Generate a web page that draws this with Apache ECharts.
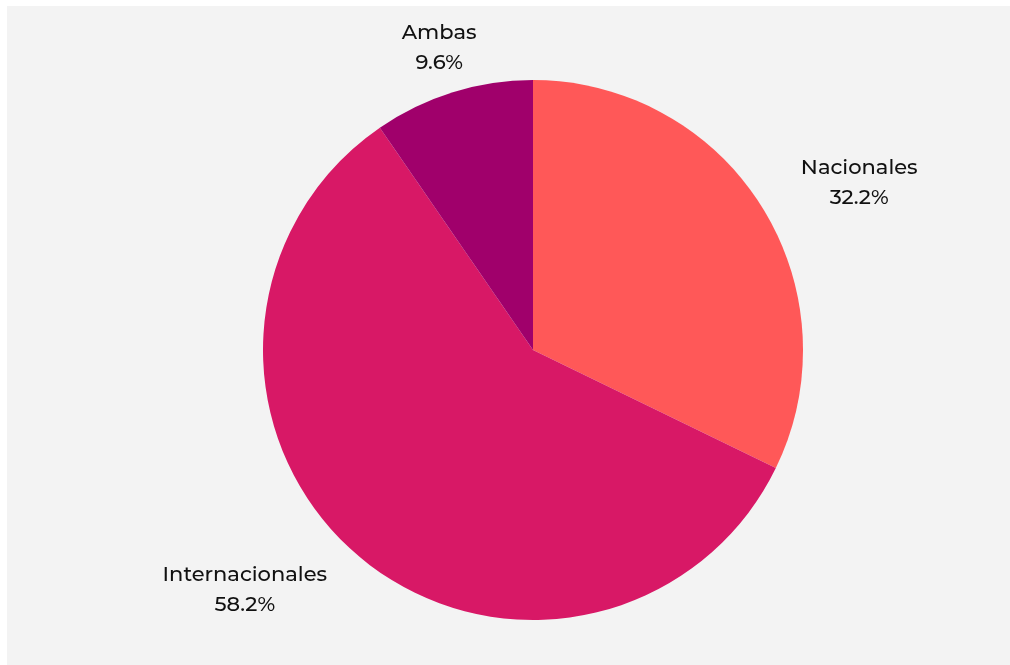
<!DOCTYPE html>
<html>
<head>
<meta charset="utf-8">
<script src="https://cdn.jsdelivr.net/npm/echarts@6/dist/echarts.min.js"></script>
<style>
  html, body { margin: 0; padding: 0; background: #ffffff; }
  #wrap { position: absolute; left: 7px; top: 6px; right: 0; bottom: 0; background: #f3f3f3; }
  #chart { position: absolute; left: -7px; top: -6px; width: 1010px; height: 665px; }
</style>
</head>
<body>
<div id="wrap"><div id="chart"></div></div>
<script>
const categories = ['Nacionales', 'Internacionales', 'Ambas'];
const values = [32.2, 58.2, 9.6];
const colors = ['#ff5858', '#d81866', '#a0006b'];

const chart = echarts.init(document.getElementById('chart'), null, { renderer: 'canvas' });
const total = values.reduce((a, b) => a + b, 0);
const radius = 270;
const labelRadius = 316;

function midAngle(i) {
  let before = 0;
  for (let k = 0; k < i; k++) before += values[k];
  return (before + values[i] / 2) / total * 2 * Math.PI;
}

chart.setOption({
  backgroundColor: 'transparent',
  animation: false,
  series: [{
    type: 'pie',
    center: [533, 350],
    radius: [0, radius],
    startAngle: 90,
    clockwise: true,
    data: categories.map((c, i) => ({ name: c, value: values[i], itemStyle: { color: colors[i] } })),
    itemStyle: { borderWidth: 0 },
    label: {
      show: true,
      position: 'outside',
      formatter: p => p.name + '\n' + p.value.toFixed(1) + '%',
      fontFamily: 'Montserrat, Inter, "DejaVu Sans", sans-serif',
      fontSize: 21,
      lineHeight: 30,
      color: '#111111',
      fontWeight: 500
    },
    labelLine: { show: false },
    labelLayout: function (params) {
      const a = midAngle(params.dataIndex);
      const s = Math.sin(a), c = Math.cos(a);
      const w = params.labelRect.width;
      let x = 533 + labelRadius * s;
      const y = 350 - labelRadius * c;
      if (Math.abs(s) >= 0.35) x += (s > 0 ? 1 : -1) * w / 2;
      return { x: x, y: y, align: 'center', verticalAlign: 'middle' };
    }
  }]
});
</script>
</body>
</html>
